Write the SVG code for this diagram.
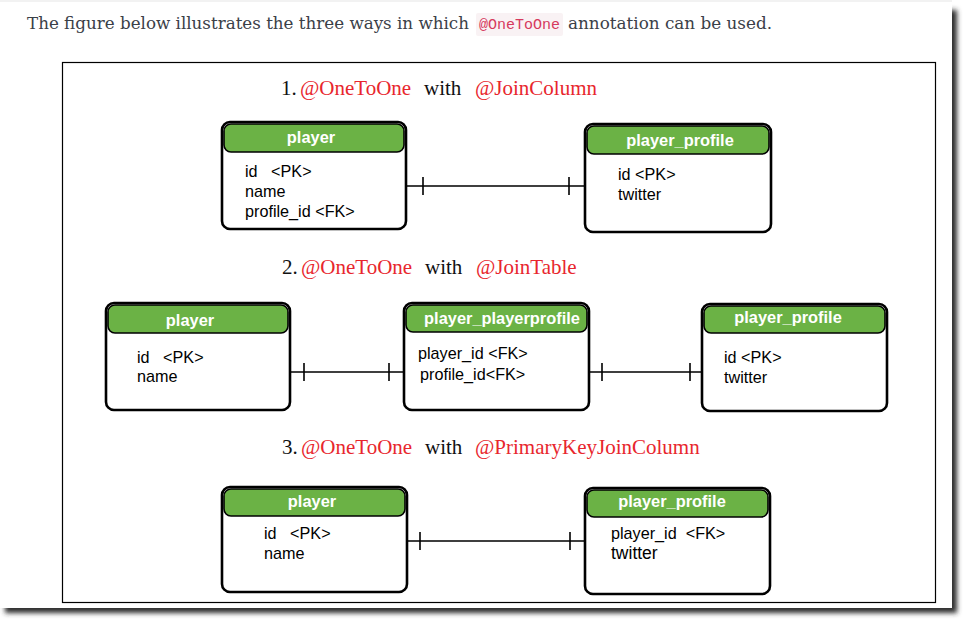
<svg xmlns="http://www.w3.org/2000/svg" width="963" height="621" viewBox="0 0 963 621">
<defs>
<filter id="sh" x="-5%" y="-5%" width="110%" height="110%"><feGaussianBlur stdDeviation="2.5"/></filter>
<style>
.intro{font-family:"DejaVu Serif","Liberation Serif",serif;font-size:17px;fill:#3b4048}
.code{font-family:"Liberation Mono","DejaVu Sans Mono",monospace;font-size:14px;fill:#d63a5e}
.hd{font-family:"Liberation Serif","DejaVu Serif",serif;font-size:21px;fill:#111}
.red{fill:#e8262d}
.box{fill:#fff;stroke:#000;stroke-width:2.6}
.hdr{fill:#6bb245;stroke:#000;stroke-width:1.6}
.ttl{font-family:"Liberation Sans",Arial,sans-serif;font-size:16.4px;font-weight:bold;fill:#fff;text-anchor:middle}
.fld{font-family:"Liberation Sans",Arial,sans-serif;font-size:16.2px;fill:#000}
.ln{stroke:#000;stroke-width:1.6;fill:none}
</style>
</defs>
<rect x="0" y="0" width="963" height="621" fill="#fff"/>
<rect x="5" y="10" width="952" height="603" fill="#2e2e2e" filter="url(#sh)"/>
<rect x="0" y="0" width="952" height="608" fill="#fff"/>
<rect x="0" y="0" width="952" height="2" fill="#f2f2f2"/>

<text class="intro" x="27" y="29" textLength="442" lengthAdjust="spacingAndGlyphs">The figure below illustrates the three ways in which</text>
<rect x="476" y="13" width="87" height="23" fill="#f9f2f4" rx="2"/>
<text class="code" x="479" y="29" textLength="81" lengthAdjust="spacingAndGlyphs">@OneToOne</text>
<text class="intro" x="568" y="29" textLength="204" lengthAdjust="spacingAndGlyphs">annotation can be used.</text>

<rect x="62.5" y="62.5" width="873" height="540" fill="none" stroke="#000" stroke-width="1.2"/>

<g id="headings">
<text class="hd" y="95"><tspan x="281">1.</tspan><tspan class="red" x="300">@OneToOne</tspan><tspan x="424">with</tspan><tspan class="red" x="475">@JoinColumn</tspan></text>
<text class="hd" y="274"><tspan x="282">2.</tspan><tspan class="red" x="301">@OneToOne</tspan><tspan x="425">with</tspan><tspan class="red" x="476">@JoinTable</tspan></text>
<text class="hd" y="454"><tspan x="282">3.</tspan><tspan class="red" x="301">@OneToOne</tspan><tspan x="425">with</tspan><tspan class="red" x="475">@PrimaryKeyJoinColumn</tspan></text>
</g>

<g id="connectors">
<path class="ln" d="M406 186H585M423 177V195M569 177V195"/>
<path class="ln" d="M290 372H404M304 363V381M389 363V381"/>
<path class="ln" d="M589 372H702M602 363V381M690 363V381"/>
<path class="ln" d="M407 541H585M420 532V550M570 532V550"/>
</g>

<g id="s1-player">
<rect class="box" x="222" y="122" width="184" height="107" rx="8"/>
<rect class="hdr" x="224" y="124" width="180" height="28" rx="7"/>
<text class="ttl" x="311" y="143">player</text>
<text class="fld" x="245" y="177" xml:space="preserve">id   &lt;PK&gt;</text>
<text class="fld" x="245" y="197">name</text>
<text class="fld" x="245" y="217">profile_id &lt;FK&gt;</text>
</g>

<g id="s1-player_profile">
<rect class="box" x="585" y="124" width="186" height="108" rx="8"/>
<rect class="hdr" x="587" y="126" width="182" height="28" rx="7"/>
<text class="ttl" x="680" y="146">player_profile</text>
<text class="fld" x="618" y="180">id &lt;PK&gt;</text>
<text class="fld" x="618" y="200">twitter</text>
</g>

<g id="s2-player">
<rect class="box" x="106" y="303" width="184" height="107" rx="8"/>
<rect class="hdr" x="108" y="305" width="180" height="28" rx="7"/>
<text class="ttl" x="190" y="326">player</text>
<text class="fld" x="137" y="363" xml:space="preserve">id   &lt;PK&gt;</text>
<text class="fld" x="137" y="382">name</text>
</g>

<g id="s2-player_playerprofile">
<rect class="box" x="404" y="303" width="185" height="107" rx="8"/>
<rect class="hdr" x="406" y="305" width="181" height="27" rx="7"/>
<text class="ttl" x="502" y="324">player_playerprofile</text>
<text class="fld" x="418" y="359">player_id &lt;FK&gt;</text>
<text class="fld" x="420" y="380">profile_id&lt;FK&gt;</text>
</g>

<g id="s2-player_profile">
<rect class="box" x="702" y="304" width="185" height="107" rx="8"/>
<rect class="hdr" x="704" y="306" width="181" height="27" rx="7"/>
<text class="ttl" x="788" y="323">player_profile</text>
<text class="fld" x="724" y="363">id &lt;PK&gt;</text>
<text class="fld" x="724" y="383">twitter</text>
</g>

<g id="s3-player">
<rect class="box" x="222" y="487" width="185" height="105" rx="8"/>
<rect class="hdr" x="224" y="489" width="181" height="27" rx="7"/>
<text class="ttl" x="312" y="507">player</text>
<text class="fld" x="264" y="539" xml:space="preserve">id   &lt;PK&gt;</text>
<text class="fld" x="264" y="559">name</text>
</g>

<g id="s3-player_profile">
<rect class="box" x="585" y="488" width="185" height="106" rx="8"/>
<rect class="hdr" x="587" y="490" width="181" height="27" rx="7"/>
<text class="ttl" x="672" y="507">player_profile</text>
<text class="fld" x="611" y="539" xml:space="preserve">player_id  &lt;FK&gt;</text>
<text class="fld" x="611" y="559" style="font-size:17.5px">twitter</text>
</g>
</svg>
